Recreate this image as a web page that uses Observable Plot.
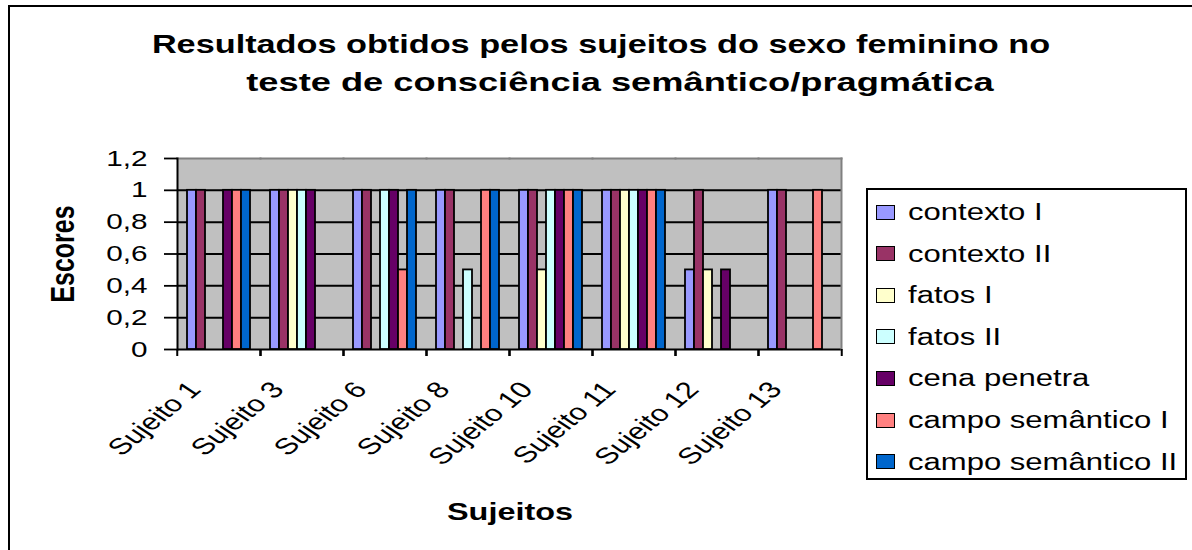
<!DOCTYPE html>
<html><head><meta charset="utf-8">
<script src="https://cdn.jsdelivr.net/npm/d3@7"></script>
<script src="https://cdn.jsdelivr.net/npm/@observablehq/plot@0.6"></script>
<style>
html,body{margin:0;padding:0;background:#fff;overflow:hidden;width:1192px;height:550px}
#page{position:relative;width:1192px;height:550px;overflow:hidden;font-family:"Liberation Sans",Arial,sans-serif;color:#000}
#border{position:absolute;left:8px;top:5px;width:1300px;height:700px;border-left:2px solid #000;border-top:2px solid #000}
#chart{position:absolute;left:0;top:0}
.tline{position:absolute;font-weight:bold;font-size:25px;line-height:1;white-space:nowrap;transform-origin:50% 50%}
#xlab{position:absolute;left:510px;top:512px;transform:translate(-50%,-50%) scaleX(1.35);font-weight:bold;font-size:24px;line-height:1;white-space:nowrap}
#legend{position:absolute;left:866px;top:188px;width:321px;height:292px;box-sizing:border-box;border:2px solid #000;background:#fff}
.li{position:absolute;left:0;height:30px;width:317px}
.sw{position:absolute;left:8px;top:7.5px;width:19px;height:15px;box-sizing:border-box;border:1.6px solid #000}
.lt{position:absolute;left:40px;top:0;font-size:23px;line-height:30px;white-space:nowrap;transform:scaleX(1.35);transform-origin:0 50%}
</style>
</head><body>
<div id="page">
  <div id="border"></div>
  <div id="chart"></div>
  <div class="tline" id="t1"></div>
  <div class="tline" id="t2"></div>
  <div id="xlab"></div>
  <div id="legend"></div>
</div>
<script>
const titleLines = ["Resultados obtidos pelos sujeitos do sexo feminino no", "teste de consciência semântico/pragmática"];
const yTitle = "Escores";
const xTitle = "Sujeitos";
const subjects = ["Sujeito 1","Sujeito 3","Sujeito 6","Sujeito 8","Sujeito 10","Sujeito 11","Sujeito 12","Sujeito 13"];
const seriesNames = ["contexto I","contexto II","fatos I","fatos II","cena penetra","campo semântico I","campo semântico II"];
const seriesColors = ["#9999FF","#993366","#FFFFCC","#CCFFFF","#660066","#FF8080","#0066CC"];
const contextoI        = [1, 1, 1, 1,   1,   1, 0.5, 1];
const contextoII       = [1, 1, 1, 1,   1,   1, 1,   1];
const fatosI           = [0, 1, 0, 0,   0.5, 1, 0.5, 0];
const fatosII          = [0, 1, 1, 0.5, 1,   1, 0,   0];
const cenaPenetra      = [1, 1, 1, 0,   1,   1, 0.5, 0];
const campoSemanticoI  = [1, 0, 0.5, 1, 1,   1, 0,   1];
const campoSemanticoII = [1, 0, 1, 1,   1,   1, 0,   0];
const yTicks = [0, 0.2, 0.4, 0.6, 0.8, 1, 1.2];
const gridTicks = [0, 0.2, 0.4, 0.6, 0.8, 1];

const seriesValues = [contextoI, contextoII, fatosI, fatosII, cenaPenetra, campoSemanticoI, campoSemanticoII];
const data = [];
subjects.forEach((s, i) => seriesNames.forEach((n, j) => {
  const v = seriesValues[j][i];
  if (v > 0) data.push({subject: s, series: n, value: v});
}));

const stretch = 1.35;

const titleSpecs = [{id: "t1", cx: 601, top: 32, sx: 1.37}, {id: "t2", cx: 620, top: 70, sx: 1.45}];
titleSpecs.forEach((t, k) => {
  const el = document.getElementById(t.id);
  el.textContent = titleLines[k];
  el.style.left = t.cx + "px";
  el.style.top = t.top + "px";
  el.style.transform = `translateX(-50%) scaleX(${t.sx})`;
});
document.getElementById("xlab").textContent = xTitle;

const W = 860, mL = 175, mR = 17;
const step = (W - mL - mR) / subjects.length;

const chart = Plot.plot({
  width: W, height: 550,
  marginLeft: mL, marginRight: mR, marginTop: 158, marginBottom: 201,
  style: {fontFamily: '"Liberation Sans", Arial, sans-serif', background: "transparent", overflow: "visible", color: "#000"},
  fx: {domain: subjects, padding: 0, label: null},
  x: {domain: seriesNames, paddingInner: 0, paddingOuter: 0.75, axis: null},
  y: {domain: [0, 1.2], label: null},
  color: {domain: seriesNames, range: seriesColors},
  marks: [
    Plot.frame({fill: "#C0C0C0", stroke: null, insetLeft: -0.5, insetRight: -0.5}),
    Plot.gridY(gridTicks, {stroke: "#000", strokeOpacity: 1, strokeWidth: 2}),
    Plot.frame({anchor: "top", stroke: "#808080", strokeWidth: 2}),
    Plot.frame({anchor: "right", facetAnchor: "right", stroke: "#808080", strokeWidth: 2}),
    Plot.barY(data, {fx: "subject", x: "series", y: "value", fill: "series", stroke: "#000", strokeWidth: 1.8}),
    Plot.frame({anchor: "left", facetAnchor: "left", stroke: "#000", strokeWidth: 2}),
    Plot.axisY(yTicks, {anchor: "left", tickSize: 13, tickPadding: 17, fontSize: 22, tickFormat: d => String(d).replace(".", ","), label: null, strokeWidth: 1.8}),
    Plot.axisY([], {anchor: "left", label: yTitle, labelAnchor: "center", labelArrow: "none", labelOffset: 127, fontSize: 25, fontWeight: "bold", tickSize: 0}),
    Plot.axisFx({anchor: "bottom", tickSize: 7, tickFormat: () => "", dx: -step / 2, label: null, strokeWidth: 2}),
    Plot.axisFx([subjects[subjects.length - 1]], {anchor: "bottom", tickSize: 7, tickFormat: () => "", dx: step / 2, label: null, strokeWidth: 2}),
    Plot.axisFx({anchor: "bottom", tickSize: 0, tickPadding: 36, tickRotate: -48, fontSize: 23, dx: -24, label: null})
  ]
});

// stretch axis texts horizontally, as in the reference picture
chart.querySelectorAll('[aria-label="y-axis tick label"] text, [aria-label="fx-axis tick label"] text, [aria-label="y-axis label"] text').forEach(t => {
  const tr = t.getAttribute("transform") || "";
  if (tr.includes("rotate(")) t.setAttribute("transform", tr.replace("rotate(", `scale(${stretch},1) rotate(`));
  else t.setAttribute("transform", `${tr} scale(${stretch},1)`);
});
document.getElementById("chart").appendChild(chart);

const legend = document.getElementById("legend");
seriesNames.forEach((n, j) => {
  const item = document.createElement("div");
  item.className = "li";
  item.style.top = (24 - 15 - 2 + j * 41.6) + "px";
  const sw = document.createElement("div");
  sw.className = "sw";
  sw.style.background = seriesColors[j];
  const t = document.createElement("div");
  t.className = "lt";
  t.textContent = n;
  item.appendChild(sw); item.appendChild(t);
  legend.appendChild(item);
});
</script>
</body></html>
